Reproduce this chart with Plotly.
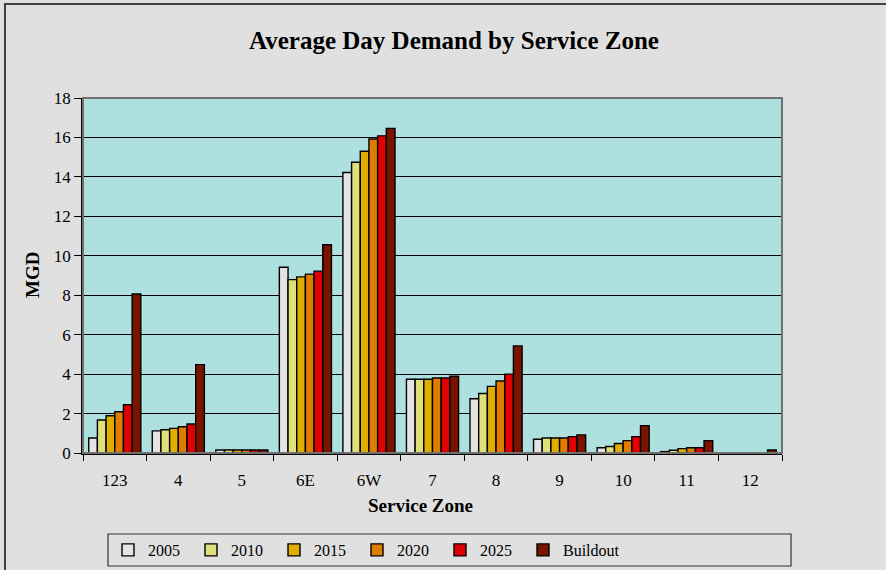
import plotly.graph_objects as go

zones = ["123", "4", "5", "6E", "6W", "7", "8", "9", "10", "11", "12"]
y2005 = [0.76, 1.12, 0.15, 9.42, 14.22, 3.74, 2.75, 0.70, 0.27, 0.07, 0.0]
y2010 = [1.67, 1.18, 0.15, 8.79, 14.74, 3.74, 3.02, 0.76, 0.33, 0.14, 0.0]
y2015 = [1.89, 1.25, 0.15, 8.93, 15.30, 3.74, 3.38, 0.76, 0.48, 0.22, 0.0]
y2020 = [2.09, 1.33, 0.15, 9.07, 15.92, 3.80, 3.65, 0.76, 0.63, 0.27, 0.0]
y2025 = [2.45, 1.47, 0.15, 9.22, 16.08, 3.80, 4.00, 0.83, 0.83, 0.27, 0.0]
ybuild = [8.06, 4.48, 0.15, 10.56, 16.46, 3.89, 5.43, 0.92, 1.39, 0.63, 0.15]

series_names = ["2005", "2010", "2015", "2020", "2025", "Buildout"]
series_vals = [y2005, y2010, y2015, y2020, y2025, ybuild]
colors = ["#e3e3e3", "#e0e07a", "#e0ae00", "#e07c00", "#e00000", "#781400"]

FONT = "Liberation Serif, Times New Roman, serif"

fig = go.Figure()
for name, vals, col in zip(series_names, series_vals, colors):
    fig.add_trace(go.Bar(
        x=zones, y=vals, name=name,
        marker=dict(color=col, line=dict(color="#000000", width=1.4)),
    ))
# invisible spacer entry so the last legend label is not clipped
fig.add_trace(go.Scatter(
    x=[None], y=[None], mode="markers", name="",
    marker=dict(color="rgba(0,0,0,0)", line=dict(width=0)),
    hoverinfo="skip", showlegend=True,
))

# plot area: x 83..782, y 98..453
FW, FH = 886, 570
L, R, T, B = 83, 782, 98, 453
W, H = R - L, B - T
def px(x):
    return (x - L) / W
def py(y):
    return (B - y) / H

fig.update_layout(
    width=FW, height=FH,
    margin=dict(l=L, r=FW - R, t=T, b=FH - B, autoexpand=False),
    paper_bgcolor="#e0e0e0",
    plot_bgcolor="#afe0e0",
    barmode="group",
    bargap=0.18,
    bargroupgap=0,
    font=dict(family=FONT, color="#000000", size=16),
    title=dict(
        text="<b>Average Day Demand by Service Zone</b>",
        font=dict(family=FONT, size=25, color="#000000"),
        x=px(454), xref="paper", xanchor="center",
        y=1 - 40 / FH, yref="container", yanchor="middle",
    ),
    showlegend=True,
    legend=dict(
        orientation="h",
        x=px(108), xanchor="left",
        y=py(550), yanchor="middle",
        bgcolor="rgba(0,0,0,0)",
        borderwidth=0,
        font=dict(family=FONT, size=16, color="#000000"),
        entrywidth=38, entrywidthmode="pixels",
        traceorder="normal",
    ),
    xaxis=dict(
        type="category",
        showgrid=False,
        showline=True, linecolor="#000000", linewidth=1.5,
        ticks="outside", tickson="boundaries", ticklen=6, tickcolor="#000000",
        tickfont=dict(family=FONT, size=17, color="#000000"),
        ticklabelstandoff=11,
        fixedrange=True,
    ),
    yaxis=dict(
        range=[0, 18], dtick=2, tick0=0,
        showgrid=True, gridcolor="#000000", gridwidth=1,
        showline=True, linecolor="#000000", linewidth=1.5,
        ticks="outside", ticklen=7, tickcolor="#000000",
        tickfont=dict(family=FONT, size=17, color="#000000"),
        zeroline=True, zerolinecolor="#000000", zerolinewidth=1.5,
        fixedrange=True,
    ),
    shapes=[
        dict(type="rect", xref="paper", yref="paper", x0=0, x1=1, y0=0, y1=1,
             line=dict(color="#707070", width=2), layer="above"),
        dict(type="rect", xref="paper", yref="paper",
             x0=px(5), x1=px(900), y0=py(585), y1=py(4),
             line=dict(color="#404040", width=2)),
        dict(type="rect", xref="paper", yref="paper",
             x0=px(108), x1=px(791), y0=py(566), y1=py(534),
             line=dict(color="#333333", width=1.2)),
    ],
    annotations=[
        dict(text="<b>MGD</b>", xref="paper", yref="paper",
             x=px(32), y=py(275), textangle=-90, showarrow=False,
             xanchor="center", yanchor="middle",
             font=dict(family=FONT, size=19, color="#000000")),
        dict(text="<b>Service Zone</b>", xref="paper", yref="paper",
             x=px(420), y=py(505), showarrow=False,
             xanchor="center", yanchor="middle",
             font=dict(family=FONT, size=19, color="#000000")),
    ],
)

fig.write_html(
    "out.html",
    config={"displayModeBar": False},
    post_script="document.body.style.margin='0';document.body.style.overflow='hidden';",
)
